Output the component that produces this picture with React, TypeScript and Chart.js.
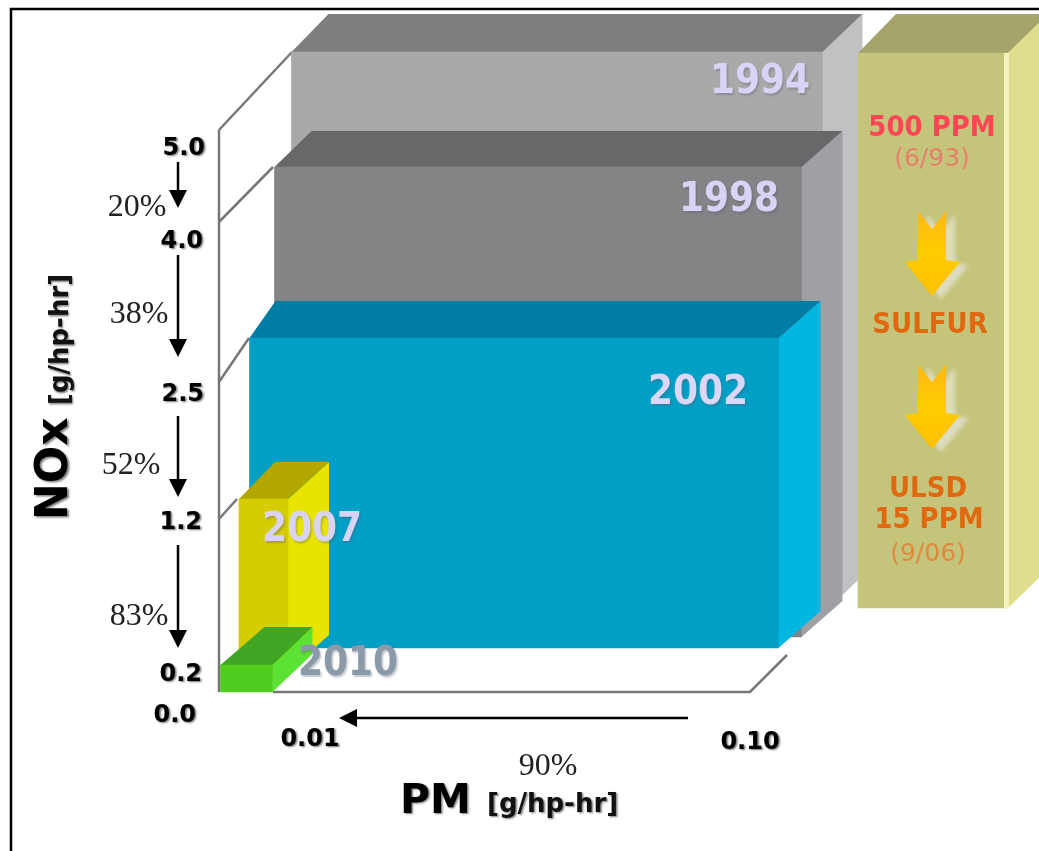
import React, { useEffect, useRef } from "react";
import { Chart, LinearScale, registerables } from "chart.js";

// ---- data ----
const years = [1994, 1998, 2002, 2007, 2010];
const noxLimits = [5.0, 4.0, 2.5, 1.2, 0.2];
const pmLimits = [0.1, 0.1, 0.1, 0.01, 0.01];
const noxTicks = [0.0, 0.2, 1.2, 2.5, 4.0, 5.0];
const pmTicks = [0.01, 0.1];
const noxSteps = [
  { from: 5.0, to: 4.0, label: "20%" },
  { from: 4.0, to: 2.5, label: "38%" },
  { from: 2.5, to: 1.2, label: "52%" },
  { from: 1.2, to: 0.2, label: "83%" },
];
const pmStepLabel = "90%";
const fuelBand = [1];

// ---- layout and styles ----
const W = 1039;
const H = 851;
const knots: Record<string, [number, number][]> = {
  x: [[0, 220], [0.1, 750], [1, 933]],
  y: [[0, 692], [0.2, 665], [1.2, 519], [2.5, 382], [4, 222], [5, 130]],
  yFuel: [[0, 608], [1, 53]],
  xTicks: [[0, 220], [0.01, 310], [0.1, 750]],
  yTicks: [[0, 713], [0.2, 672], [1.2, 520], [2.5, 392], [4, 238], [5, 146]],
};
const tickAnchor: Record<string, Record<string, [number, number]>> = {
  yTicks: { "0": [196, 713], "0.2": [202, 672], "1.2": [202, 520], "2.5": [204, 392], "4": [203, 239], "5": [205, 146] },
  xTicks: { "0.01": [310, 737], "0.1": [750, 740] },
};
const boxes = [
  { dx: 72, dy: -78, w: 531 / 530, backL: 37, backR: 40, back: -38, front: "#a9a9a9", top: "#7e7e7e", side: "#c1c1c3" },
  { dx: 53, dy: -55, w: 527 / 530, backL: 37, backR: 41, back: -36, front: "#828486", top: "#67686a", side: "#9ea0a3" },
  { dx: 29, dy: -44, w: 529 / 530, backL: 26, backR: 42, back: -37, front: "#009fc6", top: "#007da5", side: "#00b7e2" },
  { dx: 17, dy: -20, w: 49 / 53, backL: 36, backR: 41, back: -37, front: "#d6cd00", top: "#b4a700", side: "#e8e400" },
  { dx: 0, dy: 0, w: 52 / 53, backL: 44, backR: 40, back: -38, front: "#4fce20", top: "#3fa522", side: "#5ce232" },
];
const fuelBox = { dx: 0, dy: 0, w: 1, backL: 38, backR: 40, back: -39, front: "#c5c47b", top: "#a5a46a", side: "#dedf8c" };
const fuelWidth = 150;
const yearLabels: [number, number, string][] = [
  [760, 78, "#d9d3f6"],
  [729, 196, "#d9d3f6"],
  [698, 389, "#dcd6f8"],
  [312, 526, "#d9d3f6"],
  [348, 660, "#8a9aa8"],
];
const arrowPads = [[16, 30], [17, 35], [24, 23], [25, 24]];
const stepLabelPos = [[137, 205], [139, 312], [131, 463], [139, 614]];

class KnotScale extends LinearScale {
  static id = "knot";
  static defaults = LinearScale.defaults;
  getPixelForValue(v: number) {
    const k = knots[(this as any).id];
    let i = 0;
    while (i < k.length - 2 && v > k[i + 1][0]) i++;
    const [a, pa] = k[i];
    const [b, pb] = k[i + 1];
    return pa + ((v - a) / (b - a)) * (pb - pa);
  }
  _computeLabelArea() {
    return undefined;
  }
  _computeLabelItems(area: any) {
    const items = (LinearScale.prototype as any)._computeLabelItems.call(this, area);
    const anchors = tickAnchor[(this as any).id];
    const ticks = (this as any).ticks;
    items.forEach((it: any, i: number) => {
      const p = anchors[String(ticks[i].value)];
      it.options.translation = [p[0], p[1] + 8.8];
      it.options.textAlign = (this as any).id === "yTicks" ? "right" : "center";
      it.options.textBaseline = "alphabetic";
      it.textOffset = 0;
    });
    return items;
  }
  drawLabels(area: any) {
    const ctx = (this as any).ctx;
    ctx.save();
    ctx.shadowColor = "rgba(0,0,0,0.55)";
    ctx.shadowBlur = 2;
    ctx.shadowOffsetX = 1.5;
    ctx.shadowOffsetY = 1.5;
    (LinearScale.prototype as any).drawLabels.call(this, area);
    ctx.restore();
  }
}

Chart.register(...registerables, KnotScale as any);

// x, y: text centre (y at the middle of the capital height)
function text(
  ctx: CanvasRenderingContext2D,
  s: string,
  x: number,
  y: number,
  font: string,
  color: string,
  shadow = "",
  align: CanvasTextAlign = "center",
  stretch = 1
) {
  const size = parseFloat((font.match(/(\d+)px/) as RegExpMatchArray)[1]);
  const cap = font.includes("Serif") ? 0.338 : 0.365;
  ctx.save();
  ctx.font = font;
  ctx.fillStyle = color;
  ctx.textAlign = align;
  ctx.textBaseline = "alphabetic";
  if (shadow) {
    ctx.shadowColor = shadow;
    ctx.shadowBlur = 2;
    ctx.shadowOffsetX = 1.5;
    ctx.shadowOffsetY = 1.5;
  }
  ctx.translate(x, y);
  ctx.scale(1, stretch);
  ctx.fillText(s, 0, cap * size);
  ctx.restore();
}

function arrow(ctx: CanvasRenderingContext2D, x1: number, y1: number, x2: number, y2: number) {
  const a = Math.atan2(y2 - y1, x2 - x1);
  ctx.save();
  ctx.strokeStyle = "#000";
  ctx.fillStyle = "#000";
  ctx.lineWidth = 2.5;
  ctx.beginPath();
  ctx.moveTo(x1, y1);
  ctx.lineTo(x2 - 12 * Math.cos(a), y2 - 12 * Math.sin(a));
  ctx.stroke();
  ctx.translate(x2, y2);
  ctx.rotate(a);
  ctx.beginPath();
  ctx.moveTo(0, 0);
  ctx.lineTo(-18, -9);
  ctx.lineTo(-18, 9);
  ctx.closePath();
  ctx.fill();
  ctx.restore();
}

function poly(ctx: CanvasRenderingContext2D, pts: number[][], fill: any) {
  ctx.beginPath();
  pts.forEach((p, i) => (i ? ctx.lineTo(p[0], p[1]) : ctx.moveTo(p[0], p[1])));
  ctx.closePath();
  ctx.fillStyle = fill;
  ctx.fill();
}

function fuelArrow(ctx: CanvasRenderingContext2D, cx: number, top: number) {
  const pts = [
    [cx - 14, top],
    [cx, top + 18],
    [cx + 14, top],
    [cx + 14, top + 49],
    [cx + 28, top + 51],
    [cx, top + 85],
    [cx - 27, top + 51],
    [cx - 14, top + 49],
  ];
  ctx.save();
  ctx.filter = "blur(2px)";
  ctx.translate(9, 3);
  poly(ctx, pts, "rgba(225,225,205,0.85)");
  ctx.restore();
  const g = ctx.createLinearGradient(0, top, 0, top + 85);
  g.addColorStop(0, "#ffb814");
  g.addColorStop(0.5, "#ffcc00");
  g.addColorStop(1, "#ffc000");
  ctx.save();
  ctx.filter = "blur(0.7px)";
  poly(ctx, pts, g);
  ctx.restore();
}

const boxPlugin = {
  id: "boxes",
  beforeDatasetsDraw(chart: any) {
    const ctx: CanvasRenderingContext2D = chart.ctx;
    const { x, y } = chart.scales;
    ctx.save();
    // picture frame
    ctx.strokeStyle = "#000";
    ctx.lineWidth = 2.5;
    ctx.beginPath();
    ctx.moveTo(11, H);
    ctx.lineTo(11, 9);
    ctx.lineTo(W, 9);
    ctx.stroke();
    // axis walls
    ctx.strokeStyle = "#777";
    ctx.lineWidth = 2.5;
    const x0 = x.getPixelForValue(0) - 1;
    const y0 = y.getPixelForValue(0);
    ctx.beginPath();
    ctx.moveTo(x0, y.getPixelForValue(noxLimits[0]));
    ctx.lineTo(x0, y0);
    ctx.moveTo(x.getPixelForValue(pmLimits[4]), y0);
    ctx.lineTo(x.getPixelForValue(pmLimits[0]), y0);
    ctx.lineTo(x.getPixelForValue(pmLimits[0]) + 37, y0 - 37);
    noxLimits.slice(0, 4).forEach((n, i) => {
      const py = y.getPixelForValue(n);
      ctx.moveTo(x0, py);
      ctx.lineTo(x0 + boxes[i].dx + 1, py + boxes[i].dy);
    });
    ctx.stroke();
    ctx.restore();
  },
  beforeDatasetDraw(chart: any, args: any) {
    const ctx: CanvasRenderingContext2D = chart.ctx;
    const style = args.index < boxes.length ? boxes[args.index] : fuelBox;
    const el = args.meta.data[0];
    ctx.save();
    ctx.translate(style.dx, style.dy);
    const L = el.x - el.width / 2;
    const R = el.x + el.width / 2;
    const T = el.y;
    const B = el.base;
    poly(ctx, [[R, T], [R + style.backR, T + style.back], [R + style.backR, B + style.back], [R, B]], style.side);
    poly(ctx, [[L, T], [L + style.backL, T + style.back], [R + style.backR, T + style.back], [R, T]], style.top);
  },
  afterDatasetDraw(chart: any, args: any) {
    const ctx: CanvasRenderingContext2D = chart.ctx;
    const style = args.index < boxes.length ? boxes[args.index] : fuelBox;
    if (style === fuelBox) {
      const el = args.meta.data[0];
      const R = el.x + el.width / 2;
      ctx.fillStyle = "#f4f3bd";
      ctx.fillRect(R - 4, el.y, 5, el.base - el.y);
    }
    ctx.restore();
  },
  afterDraw(chart: any) {
    const ctx: CanvasRenderingContext2D = chart.ctx;
    const { yTicks, xTicks } = chart.scales;
    // year labels
    years.forEach((yr, i) => {
      const [lx, ly, c] = yearLabels[i];
      text(ctx, String(yr), lx, ly, "bold 36px 'DejaVu Sans'", c, "rgba(90,90,110,0.35)", "center", 1.15);
    });
    // reductions on the NOx axis
    noxSteps.forEach((s, i) => {
      arrow(ctx, 178, yTicks.getPixelForValue(s.from) + arrowPads[i][0], 178, yTicks.getPixelForValue(s.to) - arrowPads[i][1]);
      text(ctx, s.label, stepLabelPos[i][0], stepLabelPos[i][1], "32px 'Liberation Serif'", "#222");
    });
    // reduction on the PM axis
    arrow(ctx, xTicks.getPixelForValue(pmTicks[1]) - 62, 718, xTicks.getPixelForValue(pmTicks[0]) + 29, 718);
    text(ctx, pmStepLabel, 548, 764, "32px 'Liberation Serif'", "#222");
    // axis titles
    const sh = "rgba(0,0,0,0.5)";
    text(ctx, "PM", 400, 798, "bold 41px 'DejaVu Sans'", "#000", sh, "left");
    text(ctx, "[g/hp-hr]", 487, 802.5, "bold 26px 'DejaVu Sans'", "#111", sh, "left");
    ctx.save();
    ctx.translate(51, 520);
    ctx.rotate(-Math.PI / 2);
    text(ctx, "NOx", 0, 0, "bold 44px 'DejaVu Sans'", "#000", sh, "left");
    text(ctx, "[g/hp-hr]", 115, 7.5, "bold 26px 'DejaVu Sans'", "#111", sh, "left");
    ctx.restore();
    // sulfur pillar text
    const fcx = 932;
    text(ctx, "500 PPM", fcx, 125.5, "bold 26px 'DejaVu Sans'", "#fb4655", "", "center", 1.1);
    text(ctx, "(6/93)", fcx, 157, "25px 'DejaVu Sans'", "#e87f6c");
    fuelArrow(ctx, fcx, 211);
    text(ctx, "SULFUR", fcx - 2, 323, "bold 26px 'DejaVu Sans'", "#e0690f", "", "center", 1.1);
    fuelArrow(ctx, fcx, 364);
    text(ctx, "ULSD", 928, 487, "bold 26px 'DejaVu Sans'", "#e0690f", "", "center", 1.1);
    text(ctx, "15 PPM", 929, 518, "bold 26px 'DejaVu Sans'", "#e0690f", "", "center", 1.1);
    text(ctx, "(9/06)", 928, 552, "25px 'DejaVu Sans'", "#e08a40");
  },
};

function hiddenScale(axis: string) {
  return { type: "knot", axis, display: false, min: 0, max: 1e6, offset: false, stacked: axis === "y" ? false : undefined };
}

function tickScale(axis: string, pos: string, values: number[], digits: number) {
  return {
    type: "knot",
    axis,
    position: pos,
    offset: false,
    min: 0,
    max: 5,
    grid: { display: false },
    border: { display: false },
    afterBuildTicks: (s: any) => {
      s.ticks = values.map((value) => ({ value }));
    },
    afterFit: (s: any) => {
      if (axis === "x") s.height = 0;
      else s.width = 0;
      s.paddingLeft = s.paddingRight = s.paddingTop = s.paddingBottom = 0;
    },
    ticks: {
      autoSkip: false,
      maxRotation: 0,
      minRotation: 0,
      color: "#000",
      font: { family: "'DejaVu Sans'", size: 24, weight: "bold" },
      callback: (v: number) => Number(v).toFixed(digits),
    },
  };
}

export default function App() {
  const ref = useRef<HTMLCanvasElement>(null);
  useEffect(() => {
    const pxPerPm = (knots.x[1][1] - knots.x[0][1]) / (knots.x[1][0] - knots.x[0][0]);
    const bars = years.map((yr, i) => ({
      label: String(yr),
      data: [{ x: pmLimits[i] / 2, y: noxLimits[i] }],
      xAxisID: "x",
      yAxisID: "y",
      stack: "all",
      order: years.length - i + 1,
      barThickness: pmLimits[i] * pxPerPm * boxes[i].w,
      backgroundColor: boxes[i].front,
      borderWidth: 0,
      clip: false,
    }));
    const fuel = {
      label: "Sulfur",
      data: [{ x: 1, y: fuelBand[0] }],
      xAxisID: "x",
      yAxisID: "yFuel",
      stack: "all",
      order: 1,
      barThickness: fuelWidth,
      backgroundColor: fuelBox.front,
      borderWidth: 0,
      clip: false,
    };
    const chart = new Chart(ref.current as HTMLCanvasElement, {
      type: "bar",
      data: { datasets: [...bars, fuel] as any },
      options: {
        animation: false,
        responsive: false,
        devicePixelRatio: 1,
        plugins: { legend: { display: false }, title: { display: false }, tooltip: { enabled: false } },
        layout: { padding: 0 },
        scales: {
          x: hiddenScale("x"),
          y: hiddenScale("y"),
          yFuel: hiddenScale("y"),
          xTicks: tickScale("x", "bottom", pmTicks, 2),
          yTicks: tickScale("y", "left", noxTicks, 1),
        } as any,
      },
      plugins: [boxPlugin as any],
    });
    return () => chart.destroy();
  }, []);
  return (
    <div style={{ position: "absolute", left: 0, top: 0, width: W, height: H, background: "#fff", overflow: "hidden" }}>
      <canvas ref={ref} width={W} height={H} style={{ display: "block", width: W, height: H, filter: "blur(0.5px)" }} />
    </div>
  );
}
